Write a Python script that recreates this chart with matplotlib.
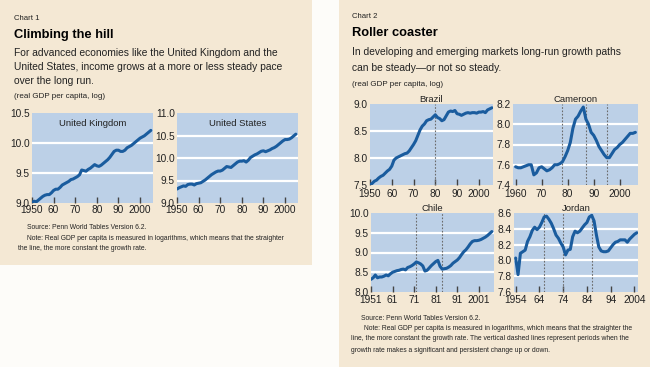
import matplotlib
matplotlib.use("Agg")
import matplotlib.pyplot as plt
from matplotlib.patches import Rectangle

# ---- data (real GDP per capita, log) ----
uk_years = list(range(1950, 2006))
uk_values = [9.01, 9.03, 9.02, 9.05, 9.08, 9.11, 9.13, 9.14, 9.14, 9.17,
             9.21, 9.23, 9.23, 9.26, 9.30, 9.32, 9.34, 9.36, 9.39, 9.40,
             9.42, 9.44, 9.47, 9.55, 9.54, 9.53, 9.56, 9.58, 9.61, 9.64,
             9.62, 9.61, 9.63, 9.66, 9.69, 9.72, 9.76, 9.81, 9.86, 9.88,
             9.88, 9.86, 9.86, 9.88, 9.92, 9.94, 9.96, 9.99, 10.02, 10.05,
             10.08, 10.10, 10.12, 10.15, 10.18, 10.21]

us_years = list(range(1950, 2006))
us_values = [9.31, 9.34, 9.36, 9.38, 9.37, 9.41, 9.42, 9.42, 9.40, 9.43,
             9.44, 9.45, 9.48, 9.51, 9.55, 9.59, 9.63, 9.66, 9.69, 9.71,
             9.71, 9.73, 9.77, 9.81, 9.80, 9.79, 9.83, 9.87, 9.91, 9.93,
             9.93, 9.94, 9.91, 9.95, 10.01, 10.04, 10.07, 10.09, 10.12, 10.15,
             10.16, 10.14, 10.16, 10.18, 10.21, 10.23, 10.26, 10.30, 10.34, 10.38,
             10.41, 10.41, 10.42, 10.45, 10.49, 10.53]

brazil_years = list(range(1950, 2007))
brazil_values = [7.50, 7.53, 7.57, 7.59, 7.63, 7.66, 7.68, 7.72, 7.76, 7.79,
                 7.85, 7.96, 8.00, 8.02, 8.04, 8.06, 8.08, 8.09, 8.13, 8.19,
                 8.25, 8.32, 8.42, 8.52, 8.59, 8.63, 8.69, 8.71, 8.72, 8.76,
                 8.80, 8.75, 8.73, 8.69, 8.71, 8.78, 8.85, 8.87, 8.86, 8.88,
                 8.82, 8.81, 8.79, 8.81, 8.83, 8.84, 8.83, 8.84, 8.84, 8.83,
                 8.85, 8.85, 8.86, 8.84, 8.89, 8.91, 8.93]

cameroon_years = list(range(1960, 2007))
cameroon_values = [7.58, 7.57, 7.57, 7.58, 7.59, 7.60, 7.60, 7.50, 7.52, 7.57,
                   7.58, 7.56, 7.54, 7.55, 7.57, 7.60, 7.60, 7.61, 7.63, 7.68,
                   7.74, 7.82, 7.96, 8.05, 8.08, 8.13, 8.17, 8.05, 8.00, 7.92,
                   7.89, 7.84, 7.78, 7.74, 7.70, 7.67, 7.67, 7.71, 7.75, 7.77,
                   7.80, 7.82, 7.85, 7.88, 7.91, 7.91, 7.92]

chile_years = list(range(1951, 2008))
chile_values = [8.32, 8.36, 8.43, 8.36, 8.38, 8.38, 8.40, 8.43, 8.41, 8.46,
                8.50, 8.52, 8.54, 8.55, 8.57, 8.58, 8.56, 8.62, 8.64, 8.67,
                8.71, 8.76, 8.74, 8.71, 8.66, 8.53, 8.55, 8.61, 8.67, 8.72,
                8.77, 8.80, 8.65, 8.58, 8.59, 8.60, 8.63, 8.67, 8.73, 8.77,
                8.81, 8.87, 8.95, 9.02, 9.07, 9.14, 9.22, 9.28, 9.30, 9.30,
                9.31, 9.33, 9.36, 9.39, 9.43, 9.48, 9.53]

jordan_years = list(range(1954, 2006))
jordan_values = [8.03, 7.82, 8.09, 8.11, 8.13, 8.24, 8.30, 8.38, 8.42, 8.39,
                 8.42, 8.48, 8.55, 8.56, 8.52, 8.47, 8.40, 8.32, 8.28, 8.22,
                 8.17, 8.07, 8.13, 8.14, 8.30, 8.37, 8.35, 8.37, 8.41, 8.45,
                 8.48, 8.55, 8.57, 8.50, 8.32, 8.17, 8.12, 8.11, 8.11, 8.12,
                 8.16, 8.20, 8.23, 8.24, 8.26, 8.26, 8.26, 8.23, 8.27, 8.30,
                 8.33, 8.35]

# break years (dashed lines)
brazil_breaks = [1980]
cameroon_breaks = [1978, 1987, 1995]
chile_breaks = [1972, 1984]
jordan_breaks = [1966, 1974, 1986]

W, H = 650, 367
BEIGE = "#f4e8d4"
FACE = "#bcd0e7"
LINE = "#1a5c9e"
TXT = "#222222"
plt.rcParams["font.family"] = ["Liberation Sans", "DejaVu Sans"]

fig = plt.figure(figsize=(W / 100, H / 100), dpi=100)
fig.patch.set_facecolor("#fdfcf9")


def px(x, y):
    return x / W, 1 - y / H


def add_ax(l, t, r, b):
    return fig.add_axes([l / W, 1 - b / H, (r - l) / W, (b - t) / H])


def panel(ax, years, values, ylim, yticks, xlim, xticks, xlabels, breaks=(), title=None,
          inner=None, xpad=1.5):
    ax.set_facecolor(FACE)
    for s in ax.spines.values():
        s.set_visible(False)
    for yt in yticks[1:-1]:
        ax.axhline(yt, color="white", lw=1.6, zorder=1)
    for b in breaks:
        ax.axvline(b, color="#6b6b6b", lw=0.8, ls=(0, (1.5, 1.5)), zorder=2)
    ax.plot(years, values, color=LINE, lw=2.2, zorder=3, solid_capstyle="round")
    ax.set_xlim(*xlim)
    ax.set_ylim(*ylim)
    ax.set_yticks(yticks)
    ax.set_yticklabels([f"{v:.1f}" for v in yticks])
    ax.set_xticks(xticks)
    ax.set_xticklabels(xlabels)
    ax.tick_params(axis="y", length=0, pad=1.5, labelsize=7.3, labelcolor=TXT)
    ax.tick_params(axis="x", direction="in", length=4, width=1, color="#444444",
                   pad=xpad, labelsize=7.3, labelcolor=TXT)
    if title:
        ax.set_title(title, fontsize=6.8, pad=1.5, color=TXT)
    if inner:
        ax.text(0.5, 0.88, inner, transform=ax.transAxes, ha="center", va="center",
                fontsize=6.8, color=TXT)


# background panels
fig.patches.append(Rectangle(px(0, 265), 312 / W, 265 / H, transform=fig.transFigure,
                             facecolor=BEIGE, edgecolor="none", zorder=-5))
fig.patches.append(Rectangle(px(339, 367), 311 / W, 1, transform=fig.transFigure,
                             facecolor=BEIGE, edgecolor="none", zorder=-5))

NOTE = 4.85
SUB = 7.35

# ---- Chart 1 texts ----
fig.text(*px(14, 18), "Chart 1", fontsize=5.6, va="center", color=TXT)
fig.text(*px(14, 35), "Climbing the hill", fontsize=9.3, fontweight="bold", va="center",
         color="black")
sub1 = ["For advanced economies like the United Kingdom and the",
        "United States, income grows at a more or less steady pace",
        "over the long run."]
for i, s in enumerate(sub1):
    fig.text(*px(14, 53 + i * 14), s, fontsize=SUB, va="center", color=TXT)
fig.text(*px(14, 96), "(real GDP per capita, log)", fontsize=5.8, va="center", color=TXT)

ax = add_ax(32, 113, 153, 203)
panel(ax, uk_years, uk_values, (9.0, 10.5), [9.0, 9.5, 10.0, 10.5], (1950, 2006),
      [1950, 1960, 1970, 1980, 1990, 2000], ["1950", "60", "70", "80", "90", "2000"],
      inner="United Kingdom")
ax = add_ax(177, 113, 298, 203)
panel(ax, us_years, us_values, (9.0, 11.0), [9.0, 9.5, 10.0, 10.5, 11.0], (1950, 2006),
      [1950, 1960, 1970, 1980, 1990, 2000], ["1950", "60", "70", "80", "90", "2000"],
      inner="United States")

fig.text(*px(27, 228), "Source: Penn World Tables Version 6.2.", fontsize=NOTE, va="center", color=TXT)
fig.text(*px(27, 238), "Note: Real GDP per capita is measured in logarithms, which means that the straighter",
         fontsize=NOTE, va="center", color=TXT)
fig.text(*px(18, 248), "the line, the more constant the growth rate.", fontsize=NOTE, va="center", color=TXT)

# ---- Chart 2 texts ----
fig.text(*px(352, 16), "Chart 2", fontsize=5.6, va="center", color=TXT)
fig.text(*px(352, 33), "Roller coaster", fontsize=9.3, fontweight="bold", va="center",
         color="black")
sub2 = ["In developing and emerging markets long-run growth paths",
        "can be steady\u2014or not so steady."]
for i, s in enumerate(sub2):
    fig.text(*px(352, 52 + i * 16), s, fontsize=SUB, va="center", color=TXT)
fig.text(*px(352, 84), "(real GDP per capita, log)", fontsize=5.8, va="center", color=TXT)

ax = add_ax(370, 104, 493, 185)
panel(ax, brazil_years, brazil_values, (7.5, 9.0), [7.5, 8.0, 8.5, 9.0], (1950, 2006.5),
      [1950, 1960, 1970, 1980, 1990, 2000], ["1950", "60", "70", "80", "90", "2000"],
      breaks=brazil_breaks, title="Brazil", xpad=2.8)
ax = add_ax(513, 104, 638, 185)
panel(ax, cameroon_years, cameroon_values, (7.4, 8.2), [7.4, 7.6, 7.8, 8.0, 8.2], (1959, 2007),
      [1960, 1970, 1980, 1990, 2000], ["1960", "70", "80", "90", "2000"],
      breaks=cameroon_breaks, title="Cameroon", xpad=2.8)
ax = add_ax(371, 213, 494, 292)
panel(ax, chile_years, chile_values, (8.0, 10.0), [8.0, 8.5, 9.0, 9.5, 10.0], (1951, 2008),
      [1951, 1961, 1971, 1981, 1991, 2001], ["1951", "61", "71", "81", "91", "2001"],
      breaks=chile_breaks, title="Chile", xpad=2.2)
ax = add_ax(514, 213, 638, 292)
panel(ax, jordan_years, jordan_values, (7.6, 8.6), [7.6, 7.8, 8.0, 8.2, 8.4, 8.6], (1953.3, 2005.5),
      [1954, 1964, 1974, 1984, 1994, 2004], ["1954", "64", "74", "84", "94", "2004"],
      breaks=jordan_breaks, title="Jordan", xpad=2.2)

fig.text(*px(361, 319), "Source: Penn World Tables Version 6.2.", fontsize=NOTE, va="center", color=TXT)
notes2 = ["Note: Real GDP per capita is measured in logarithms, which means that the straighter the",
          "line, the more constant the growth rate. The vertical dashed lines represent periods when the",
          "growth rate makes a significant and persistent change up or down."]
fig.text(*px(364, 328), notes2[0], fontsize=NOTE, va="center", color=TXT)
fig.text(*px(351, 339), notes2[1], fontsize=NOTE, va="center", color=TXT)
fig.text(*px(351, 350), notes2[2], fontsize=NOTE, va="center", color=TXT)

fig.savefig("out.png", dpi=100, facecolor=fig.get_facecolor())
